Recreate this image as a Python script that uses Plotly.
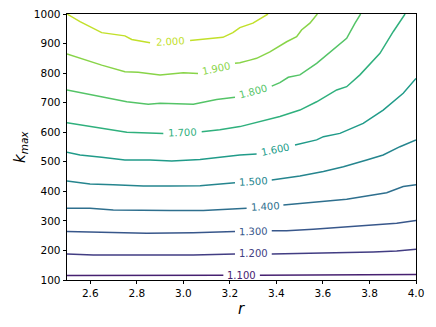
import plotly.graph_objects as go
from plotly.colors import sample_colorscale

# contour levels and the lines (r, k_max), None = label gap
levels = [1.1, 1.2, 1.3, 1.4, 1.5, 1.6, 1.7, 1.8, 1.9, 2.0]

r_110 = [2.5, 2.757, 3.172, None, 3.329, 3.673, 4.0]
k_110 = [115, 115, 116, None, 116, 117, 119]

r_120 = [2.5, 2.613, 2.9, 3.043, 3.222, None, 3.380, 3.544, 3.816, 3.917, 4.0]
k_120 = [188, 185, 185, 185, 188, None, 188, 190, 195, 198, 204]

r_130 = [2.5, 2.685, 2.842, 3.043, 3.222, None, 3.380, 3.444, 3.558, 3.673, 3.816, 3.917, 4.0]
k_130 = [264, 260, 258, 260, 264, None, 267, 267, 272, 278, 286, 292, 301]

r_140 = [2.5, 2.599, 2.699, 2.828, 2.943, 3.086, 3.2, 3.272, None, 3.430, 3.602, 3.702, 3.788, 3.874, 3.945, 4.0]
k_140 = [343, 343, 337, 335, 335, 335, 339, 343, None, 354, 365, 373, 384, 395, 416, 422]

r_150 = [2.5, 2.599, 2.699, 2.828, 2.943, 3.072, 3.222, None, 3.380, 3.501, 3.602, 3.688, 3.788, 3.859, 3.931, 4.0]
k_150 = [435, 425, 422, 418, 418, 419, 429, None, 438, 452, 467, 483, 506, 523, 551, 574]

r_160 = [2.5, 2.556, 2.649, 2.749, 2.857, 2.950, 3.072, 3.172, 3.243, 3.315, None,
         3.480, 3.573, 3.602, 3.673, 3.773, 3.859, 3.945, 4.0]
k_160 = [532, 523, 515, 506, 506, 503, 508, 517, 523, 526, None,
         557, 574, 585, 596, 630, 675, 732, 782]

r_170 = [2.5, 2.649, 2.757, 2.914, None, 3.079, 3.157, 3.243, 3.329, 3.415, 3.501,
         3.573, 3.659, 3.702, 3.759, 3.845, 3.902, 3.953]
k_170 = [632, 613, 600, 596, None, 602, 608, 619, 636, 653, 675,
         703, 743, 754, 794, 867, 940, 1000]

r_180 = [2.5, 2.613, 2.757, 2.849, 2.9, 3.043, 3.1, 3.143, 3.222, None,
         3.380, 3.415, 3.451, 3.501, 3.573, 3.659, 3.702, 3.738, 3.762]
k_180 = [743, 726, 703, 695, 698, 695, 703, 711, 718, None,
         756, 768, 786, 794, 833, 889, 918, 969, 1000]

r_190 = [2.5, 2.556, 2.649, 2.749, 2.806, 2.900, 3.0, 3.063, None,
         3.222, 3.243, 3.286, 3.315, 3.372, 3.444, 3.487, 3.508, 3.544, 3.576]
k_190 = [865, 850, 827, 805, 803, 794, 801, 799, None,
         833, 835, 844, 850, 872, 906, 923, 946, 969, 1000]

r_200 = [2.5, 2.556, 2.649, 2.749, 2.778, 2.857, None, 3.029, 3.127, 3.170, 3.213, 3.243, 3.299, 3.364]
k_200 = [1000, 974, 937, 926, 914, 903, None, 910, 919, 921, 937, 954, 969, 1000]

lines_r = [r_110, r_120, r_130, r_140, r_150, r_160, r_170, r_180, r_190, r_200]
lines_k = [k_110, k_120, k_130, k_140, k_150, k_160, k_170, k_180, k_190, k_200]

# inline label centres
label_r = [3.25, 3.301, 3.301, 3.351, 3.301, 3.398, 2.997, 3.301, 3.143, 2.943]
label_k = [116, 188, 265.5, 349, 433, 542, 599, 737, 815, 907]
label_angle = [0, 0, -1, -3, -3, -12, -2, -15, -12, -3]

x_ticks = [2.6, 2.8, 3.0, 3.2, 3.4, 3.6, 3.8, 4.0]
y_ticks = [100, 200, 300, 400, 500, 600, 700, 800, 900, 1000]

# matplotlib-style norm over 1.0 .. 2.1
colors = sample_colorscale("Viridis", [(l - 1.0) / 1.1 for l in levels])

fig = go.Figure()
for lvl, rr, kk, c in zip(levels, lines_r, lines_k, colors):
    fig.add_trace(go.Scatter(x=rr, y=kk, mode="lines", line=dict(color=c, width=1.5),
                             connectgaps=False, showlegend=False, hoverinfo="skip"))

for lvl, x, y, a, c in zip(levels, label_r, label_k, label_angle, colors):
    fig.add_annotation(x=x, y=y, text="%.3f" % lvl, showarrow=False, textangle=a,
                       font=dict(family="DejaVu Sans", size=10, color=c))

# axis titles
fig.add_annotation(x=0.5, y=0, xref="paper", yref="paper", yshift=-29, yanchor="middle",
                   text="<i>r</i>", showarrow=False,
                   font=dict(family="DejaVu Sans", size=15, color="black"))
fig.add_annotation(x=0, y=0.5, xref="paper", yref="paper", xshift=-47, xanchor="center",
                   text="<i>k</i><sub><i>max</i></sub>", showarrow=False, textangle=-90,
                   font=dict(family="DejaVu Sans", size=15, color="black"))

axis_style = dict(showline=True, linecolor="black", linewidth=0.8, mirror=True,
                  ticks="outside", ticklen=3.5, tickwidth=0.8, tickcolor="black",
                  showgrid=False, zeroline=False, automargin=False,
                  ticklabeloverflow="allow",
                  tickfont=dict(family="DejaVu Sans", size=10.5, color="black"))

fig.update_xaxes(range=[2.5, 4.0], tickvals=x_ticks,
                 ticktext=["%.1f" % t for t in x_ticks], **axis_style)
fig.update_yaxes(range=[100, 1000], tickvals=y_ticks, **axis_style)

fig.update_layout(width=436, height=327, margin=dict(l=67, r=20, t=14, b=47),
                  plot_bgcolor="white", paper_bgcolor="white")

# drop the default body margin so the figure sits at the page corner
fig.write_html("out.html", config={"displayModeBar": False},
               post_script="document.body.style.margin='0';")
